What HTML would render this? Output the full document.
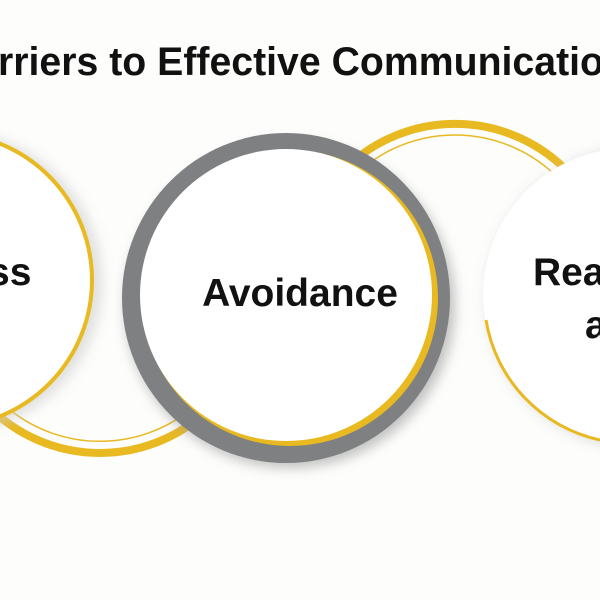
<!DOCTYPE html>
<html><head><meta charset="utf-8"><style>
html,body{margin:0;padding:0;background:#fdfdfc;}
svg{display:block;}
text{font-family:"Liberation Sans",sans-serif;font-weight:bold;fill:#111;}
</style></head><body>
<svg width="600" height="600" viewBox="0 0 600 600" xmlns="http://www.w3.org/2000/svg">
<defs>
<filter id="sh" x="-30%" y="-30%" width="160%" height="160%"><feGaussianBlur stdDeviation="6"/></filter>
</defs>
<rect width="600" height="600" fill="#fdfdfc"/>
<text x="-2" y="75" font-size="40" textLength="606" lengthAdjust="spacingAndGlyphs">rriers to Effective Communicatio</text>
<path d="M 0 417 A 157 157 0 0 0 200 417" fill="none" stroke="#e8b921" stroke-width="8"/>
<path d="M 10 410 A 145 145 0 0 0 190 410" fill="none" stroke="#e8b921" stroke-width="1.5"/>
<path d="M 340 174 A 157 157 0 0 1 570 174" fill="none" stroke="#e8b921" stroke-width="8"/>
<path d="M 350 180 A 145 145 0 0 1 560 180" fill="none" stroke="#e8b921" stroke-width="1.5"/>
<circle cx="-48" cy="282" r="150" fill="#ccc" filter="url(#sh)" opacity="0.6"/>
<circle cx="-55" cy="280" r="147" fill="#fff" stroke="#e8b921" stroke-width="4"/>
<circle cx="636" cy="298" r="150" fill="#ccc" filter="url(#sh)" opacity="0.6"/>
<circle cx="630" cy="295" r="147" fill="#fff"/>
<path d="M 486 320 A 147 147 0 0 0 600 440" fill="none" stroke="#e8b921" stroke-width="3"/>
<ellipse cx="290" cy="305" rx="165" ry="163" fill="#999" filter="url(#sh)" opacity="0.6"/>
<ellipse cx="286" cy="298" rx="164" ry="165" fill="#7f8082"/>
<circle cx="290" cy="298" r="148" fill="#e8b921"/>
<circle cx="286" cy="295" r="146" fill="#fff"/>
<text x="300" y="306" font-size="39" text-anchor="middle">Avoidance</text>
<text x="-12" y="285" font-size="39">ss</text>
<text x="533" y="285" font-size="39">Rea</text>
<text x="585" y="338" font-size="39">a</text>
</svg>
</body></html>
